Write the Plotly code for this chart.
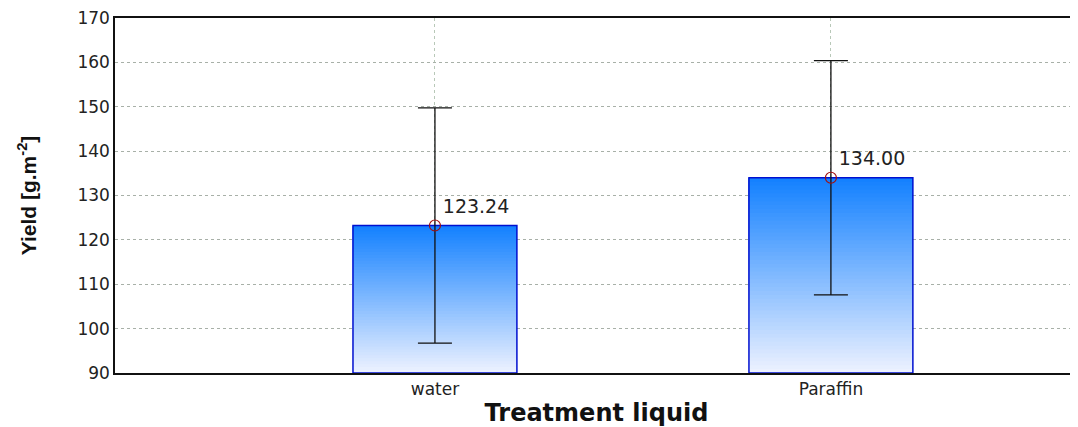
import plotly.graph_objects as go

categories = ["water", "Paraffin"]
means = [123.24, 134.00]
err = [26.5, 26.4]
labels = ["123.24", "134.00"]
y_ticks = [90, 100, 110, 120, 130, 140, 150, 160, 170]

BASE = 90
N = 50
top_rgb = (18, 128, 255)
bot_rgb = (238, 242, 255)
xpos = list(range(len(categories)))
W = 0.414

fig = go.Figure()
for i in range(N):
    f0 = i / N
    t = (i + 0.5) / N
    c = tuple(int(round(bot_rgb[k] + (top_rgb[k] - bot_rgb[k]) * t)) for k in range(3))
    bases = [BASE + (m - BASE) * f0 for m in means]
    hs = [m - b for m, b in zip(means, bases)]
    fig.add_trace(go.Bar(x=xpos, y=hs, base=bases, width=W,
                         marker=dict(color=f"rgb{c}", line=dict(width=0)),
                         showlegend=False, hoverinfo="skip"))

# outline
fig.add_trace(go.Bar(x=xpos, y=[m - BASE for m in means], base=[BASE] * len(means), width=W,
                     marker=dict(color="rgba(0,0,0,0)", line=dict(color="#0010D0", width=1.5)),
                     showlegend=False, hoverinfo="skip"))

fig.add_trace(go.Scatter(x=xpos, y=means, mode="markers+text",
                         marker=dict(symbol="circle-open", size=11, color="#A01010", line=dict(width=1.2)),
                         error_y=dict(type="data", array=err, visible=True, color="#111", thickness=1.3, width=17),
                         text=labels, textposition="top right",
                         textfont=dict(family="DejaVu Sans", size=19, color="#222"),
                         showlegend=False))

fig.update_layout(
    width=1070, height=419, barmode="overlay",
    margin=dict(l=107, r=0, t=10, b=54),
    plot_bgcolor="white", paper_bgcolor="white",
    font=dict(family="DejaVu Sans", color="#222"),
)
fig.update_xaxes(range=[-0.808, 1.624], tickvals=xpos, ticktext=categories, automargin=False,
                 tickfont=dict(size=17, color="#222"),
                 showline=True, linecolor="#111", linewidth=1.5, mirror=True,
                 showgrid=True, gridcolor="#b8c8b8", griddash="dot", gridwidth=1,
                 ticks="", zeroline=False,
                 title=dict(text="<b>Treatment liquid</b>", font=dict(family="DejaVu Sans", size=24, color="#111"), standoff=9))
fig.update_yaxes(range=[90, 170], tickvals=y_ticks, automargin=False,
                 ticklabeloverflow="allow",
                 tickfont=dict(size=17, color="#222"),
                 showline=True, linecolor="#111", linewidth=1.5,
                 showgrid=True, gridcolor="#a8b0a8", griddash="dot", gridwidth=1,
                 ticks="", zeroline=False,
                 title=dict(text="<b>Yield [g.m<sup>-2</sup>]</b>",
                            font=dict(family="Liberation Sans Narrow, Liberation Sans, Arial", size=21, color="#111"),
                            standoff=35))

fig.write_html("out.html")
